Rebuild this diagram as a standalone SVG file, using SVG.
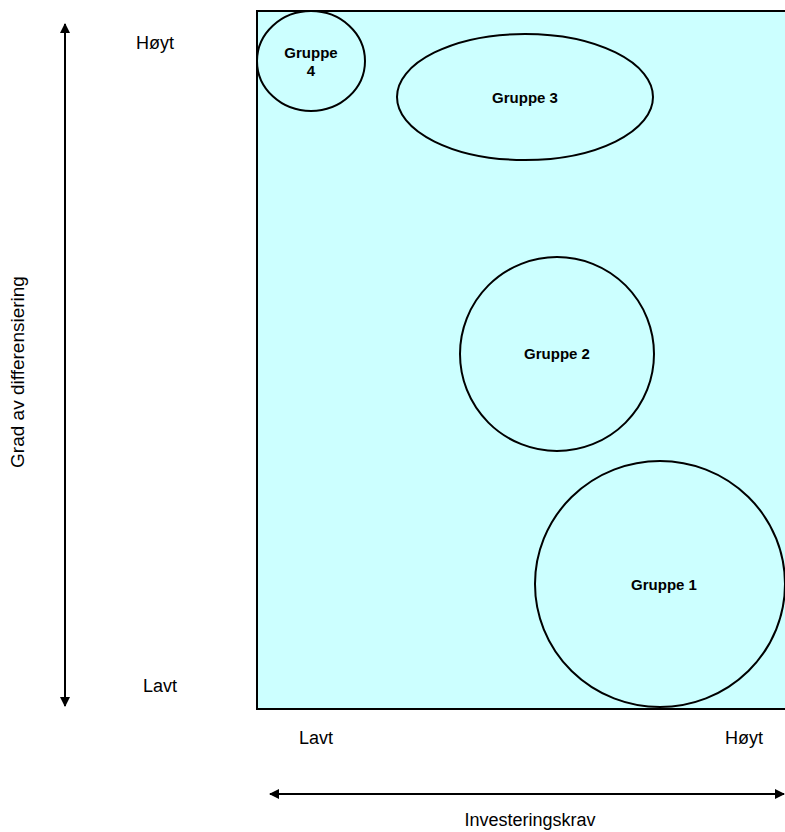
<svg xmlns="http://www.w3.org/2000/svg" width="785" height="832" viewBox="0 0 785 832">
<style>
.lbl{font-family:"Liberation Sans",Arial,sans-serif;font-size:18px;fill:#000}
.grp{font-family:"Liberation Sans",Arial,sans-serif;font-size:15px;font-weight:bold;fill:#000;text-anchor:middle}
.shape{fill:#CCFFFF;stroke:#000;stroke-width:2}
.axis{stroke:#000;stroke-width:2;fill:none}
</style>
<defs>
<marker id="ah" viewBox="0 0 10 10" refX="9" refY="5" markerWidth="5" markerHeight="5" orient="auto-start-reverse" markerUnits="strokeWidth">
<path d="M0,0 L10,5 L0,10 Z" fill="#000"/>
</marker>
</defs>
<rect id="field" class="shape" x="257" y="11" width="530" height="698"/>
<g id="connectors">
<line class="axis" x1="65" y1="24" x2="65" y2="706" marker-start="url(#ah)" marker-end="url(#ah)"/>
<line class="axis" x1="270" y1="794" x2="784" y2="794" marker-start="url(#ah)" marker-end="url(#ah)"/>
</g>
<g id="gruppe4">
<ellipse class="shape" cx="311" cy="61" rx="54" ry="50"/>
<text class="grp" x="311" y="58">Gruppe</text>
<text class="grp" x="311" y="76">4</text>
</g>
<g id="gruppe3">
<ellipse class="shape" cx="525" cy="97" rx="128" ry="63"/>
<text class="grp" x="525" y="103">Gruppe 3</text>
</g>
<g id="gruppe2">
<ellipse class="shape" cx="557" cy="354" rx="97" ry="97"/>
<text class="grp" x="557" y="359">Gruppe 2</text>
</g>
<g id="gruppe1">
<ellipse class="shape" cx="660" cy="584" rx="125" ry="123"/>
<text class="grp" x="664" y="590">Gruppe 1</text>
</g>
<g id="labels">
<text class="lbl" x="136" y="49">Høyt</text>
<text class="lbl" x="143" y="692">Lavt</text>
<text class="lbl" x="299" y="744">Lavt</text>
<text class="lbl" x="725" y="744">Høyt</text>
<text class="lbl" x="530" y="826" text-anchor="middle">Investeringskrav</text>
<text class="lbl" transform="translate(24,372) rotate(-90)" text-anchor="middle" style="font-size:19px">Grad av differensiering</text>
</g>
</svg>
